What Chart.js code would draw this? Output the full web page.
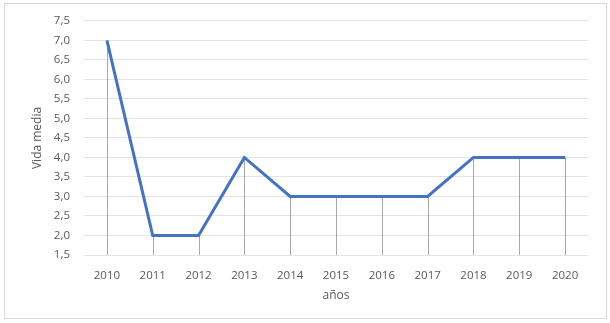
<!DOCTYPE html>
<html>
<head>
<meta charset="utf-8">
<script src="https://cdn.jsdelivr.net/npm/chart.js@4/dist/chart.umd.min.js"></script>
<style>
  html, body { margin: 0; padding: 0; background: #fff; }
  #wrap { position: relative; width: 610px; height: 323px; }
  #frame { position: absolute; left: 4px; top: 3px; width: 601px; height: 314px; border: 1px solid #d9d9d9; }
  canvas { position: absolute; left: 0; top: 0; }
</style>
</head>
<body>
<div id="wrap">
  <div id="frame"></div>
  <canvas id="chart" width="610" height="323"></canvas>
</div>
<script>
const years = ['2010', '2011', '2012', '2013', '2014', '2015', '2016', '2017', '2018', '2019', '2020'];
const vidaMedia = [7, 2, 2, 4, 3, 3, 3, 3, 4, 4, 4];
const yMin = 1.5;
const yMax = 7.5;
const yStep = 0.5;

// lineas de caida desde cada punto hasta el eje
const dropLines = {
  id: 'dropLines',
  beforeDatasetsDraw(chart) {
    const ctx = chart.ctx;
    const bottom = chart.scales.y.getPixelForValue(yMin);
    const meta = chart.getDatasetMeta(0);
    ctx.save();
    ctx.strokeStyle = '#a6a6a6';
    ctx.lineWidth = 1;
    meta.data.forEach(p => {
      const x = Math.round(p.x) + 0.5;
      ctx.beginPath();
      ctx.moveTo(x, p.y);
      ctx.lineTo(x, bottom);
      ctx.stroke();
    });
    ctx.restore();
  }
};

const font = { family: 'Open Sans', size: 11.5 };

new Chart(document.getElementById('chart').getContext('2d'), {
  type: 'line',
  data: {
    labels: years,
    datasets: [{
      data: vidaMedia,
      borderColor: '#4472c4',
      borderWidth: 3,
      pointRadius: 0,
      tension: 0,
      fill: false
    }]
  },
  options: {
    responsive: false,
    animation: false,
    layout: { padding: { left: 30, right: 22, top: 19, bottom: 16 } },
    plugins: { legend: { display: false }, tooltip: { enabled: false } },
    scales: {
      x: {
        offset: true,
        grid: { display: false, offset: true },
        border: { display: false },
        ticks: { color: '#595959', font: font, padding: 6, maxRotation: 0 },
        title: { display: true, text: 'años', color: '#595959', font: { family: 'Open Sans', size: 12 }, padding: { top: 4 } },
        afterFit(s) { s.height = 52; }
      },
      y: {
        min: yMin,
        max: yMax,
        grid: { color: '#e3e3e3', drawTicks: false },
        border: { display: false },
        ticks: {
          stepSize: yStep,
          color: '#595959',
          font: font,
          padding: 14,
          callback: v => v.toFixed(1).replace('.', ',')
        },
        title: { display: true, text: 'Vida media', color: '#595959', font: { family: 'Open Sans', size: 12 }, padding: 0 },
        afterFit(s) { s.width = 54; }
      }
    }
  },
  plugins: [dropLines]
});
</script>
</body>
</html>
